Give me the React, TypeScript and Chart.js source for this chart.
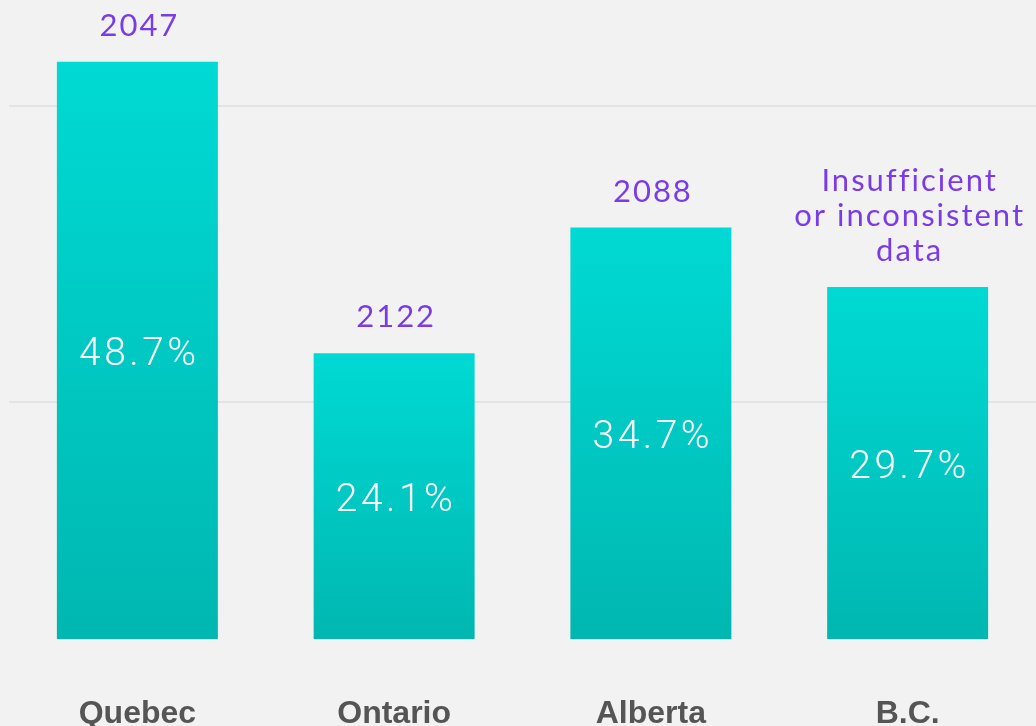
import React, { useEffect, useRef } from "react";
import { Chart, registerables } from "chart.js";

Chart.register(...registerables);

const categories = ["Quebec", "Ontario", "Alberta", "B.C."];
const sharePercent = [48.7, 24.1, 34.7, 29.7];
const sampleLabels = ["2047", "2122", "2088", "Insufficient\nor inconsistent\ndata"];
const gridValues = [20, 45];

const labelPlugin = {
  id: "barLabels",
  afterDatasetsDraw(chart: any) {
    const ctx = chart.ctx;
    const meta = chart.getDatasetMeta(0);
    meta.data.forEach((bar: any, i: number) => {
      const x = bar.x;
      const top = bar.y;
      const base = bar.base;
      ctx.save();
      // value labels above bars
      ctx.fillStyle = "#7a3ce6";
      ctx.font = '31px "Lato", "Noto Sans", sans-serif';
      (ctx as any).letterSpacing = "2px";
      ctx.textAlign = "center";
      ctx.textBaseline = "alphabetic";
      const lines = sampleLabels[i].split("\n");
      const lh = 35;
      lines.forEach((ln, j) => {
        const y = top - 26 - (lines.length - 1 - j) * lh;
        ctx.fillText(ln, x + 2, y);
      });
      // percent labels inside bars
      ctx.fillStyle = "#ffffff";
      ctx.font = '300 39px "Roboto", sans-serif';
      (ctx as any).letterSpacing = "3.5px";
      ctx.textBaseline = "middle";
      ctx.fillText(sharePercent[i].toFixed(1) + "%", x + 2, (top + base) / 2 + 5);
      ctx.restore();
    });
  },
};

export default function App() {
  const ref = useRef<HTMLCanvasElement>(null);

  useEffect(() => {
    document.body.style.margin = "0";
    document.body.style.background = "#f2f2f2";
    const canvas = ref.current!;
    const chart = new Chart(canvas, {
      type: "bar",
      data: {
        labels: categories,
        datasets: [
          {
            data: sharePercent,
            barPercentage: 0.627,
            categoryPercentage: 1,
            borderWidth: 0,
            backgroundColor: (c: any) => {
              const ch = c.chart;
              if (!ch.chartArea || c.type !== "data") return "#00c9c2";
              const v = c.raw as number;
              const yS = ch.scales.y;
              const top = yS.getPixelForValue(v);
              const bottom = yS.getPixelForValue(0);
              const g = ch.ctx.createLinearGradient(0, top, 0, bottom);
              g.addColorStop(0, "#00dad4");
              g.addColorStop(1, "#00b7b1");
              return g;
            },
          },
        ],
      },
      options: {
        responsive: false,
        devicePixelRatio: 1,
        animation: false,
        layout: { padding: { left: 9, right: 0, top: 0, bottom: 0 } },
        plugins: {
          legend: { display: false },
          tooltip: { enabled: false },
        },
        scales: {
          x: {
            grid: { display: false, drawTicks: false },
            border: { display: false },
            ticks: {
              color: "#555555",
              font: { family: '"Liberation Sans", Arial, sans-serif', size: 32, weight: "bold" },
              padding: 56,
            },
            afterFit: (s: any) => {
              s.height = 87;
            },
          },
          y: {
            min: 0,
            max: 53.9,
            grid: { color: "#e3e3e3", lineWidth: 2, drawTicks: false },
            border: { display: false },
            ticks: { display: false },
            afterBuildTicks: (s: any) => {
              s.ticks = gridValues.map((v) => ({ value: v }));
            },
            afterFit: (s: any) => {
              s.width = 0;
            },
          },
        },
      },
      plugins: [labelPlugin],
    });
    return () => chart.destroy();
  }, []);

  return (
    <div style={{ width: 1036, height: 726, background: "#f2f2f2" }}>
      <canvas ref={ref} width={1036} height={726} style={{ display: "block" }} />
    </div>
  );
}
